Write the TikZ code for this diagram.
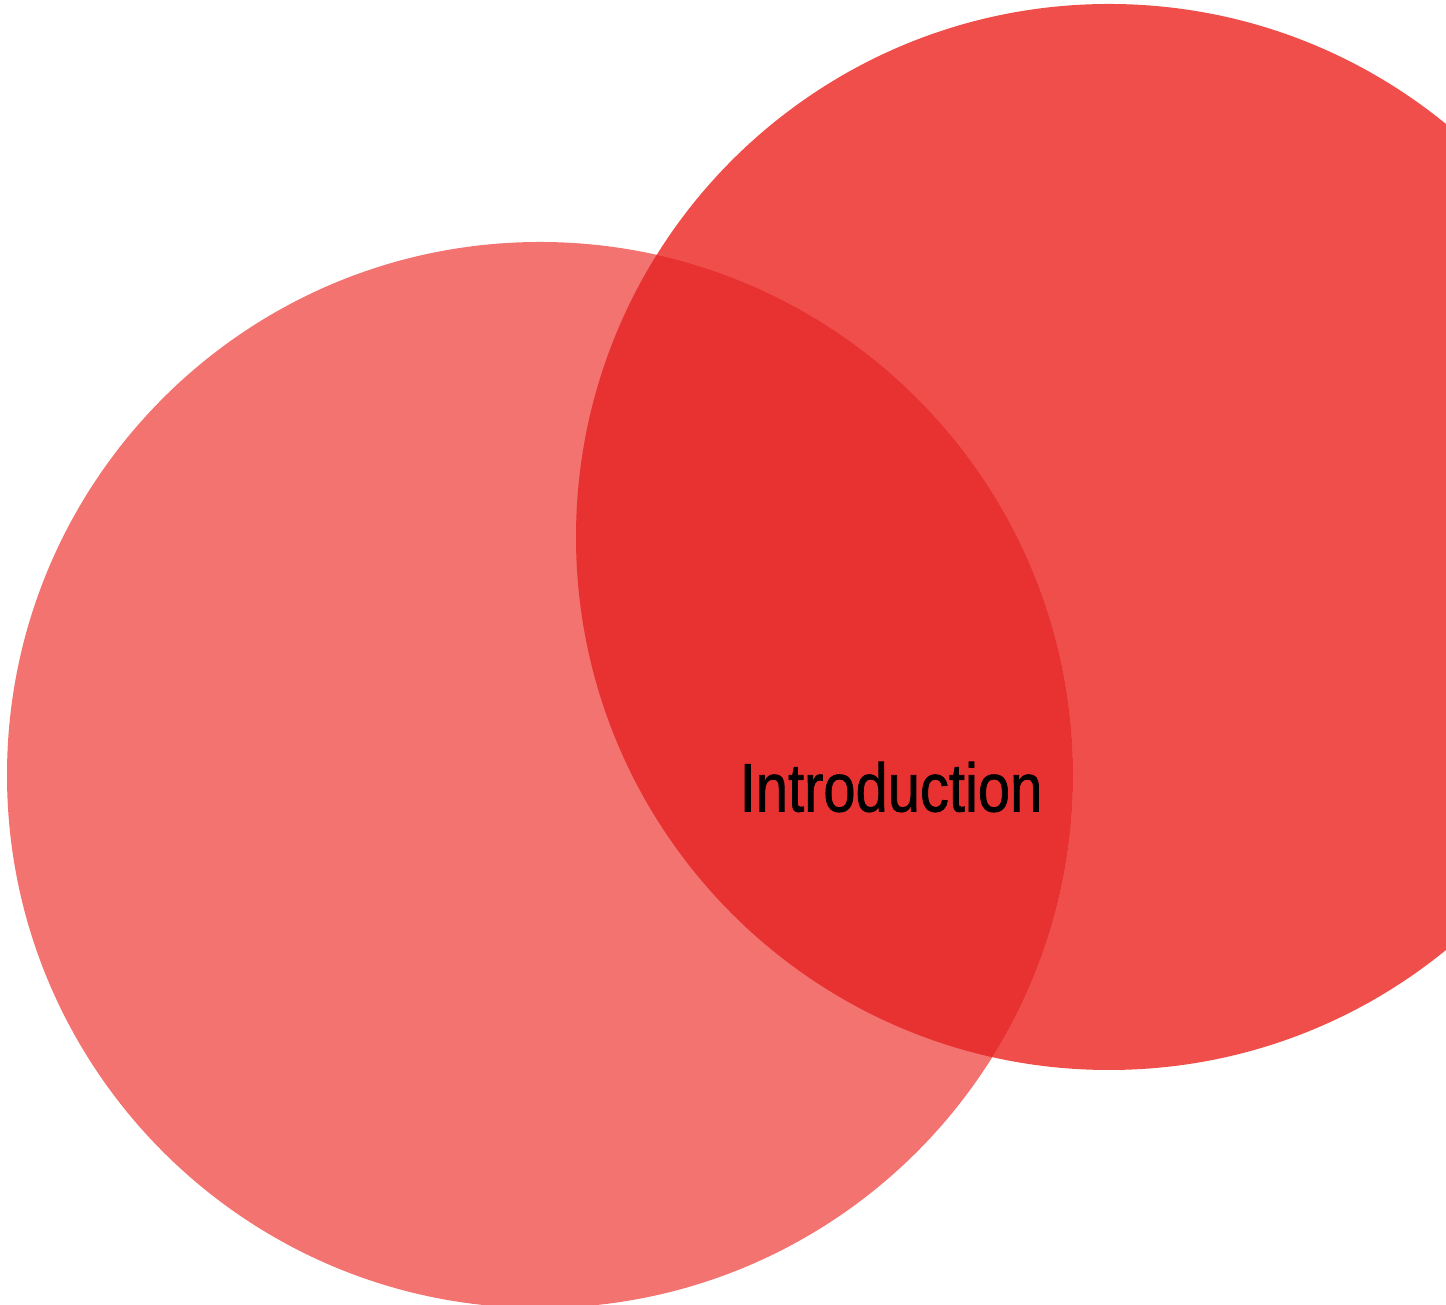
\documentclass[tikz,border=0pt]{standalone}
\usepackage{fontspec}
\setmainfont{Liberation Sans}
\newfontfamily\titlefont[FakeBold=1.2]{Liberation Sans}
\definecolor{leftred}{HTML}{F27370}
\definecolor{rightred}{HTML}{F04E4A}
\definecolor{overlapred}{HTML}{E83232}
\begin{document}
\begin{tikzpicture}
        \useasboundingbox (0,0) rectangle (14.46,13.05);
        \begin{scope}
            \clip (0,0) rectangle (14.46,13.05);
            \fill[rightred] (11.09,7.68) circle (5.33);
            \fill[leftred] (5.40,5.30) circle (5.33);
            \begin{scope}
                \clip (11.09,7.68) circle (5.33);
                \fill[overlapred] (5.40,5.30) circle (5.33);
            \end{scope}
        \end{scope}
        \node[inner sep=0pt] (intro) at (8.91,5.18) {\scalebox{0.845}[1]{\titlefont\fontsize{19.5}{22}\selectfont Introduction}};
    \end{tikzpicture}
\end{document}
